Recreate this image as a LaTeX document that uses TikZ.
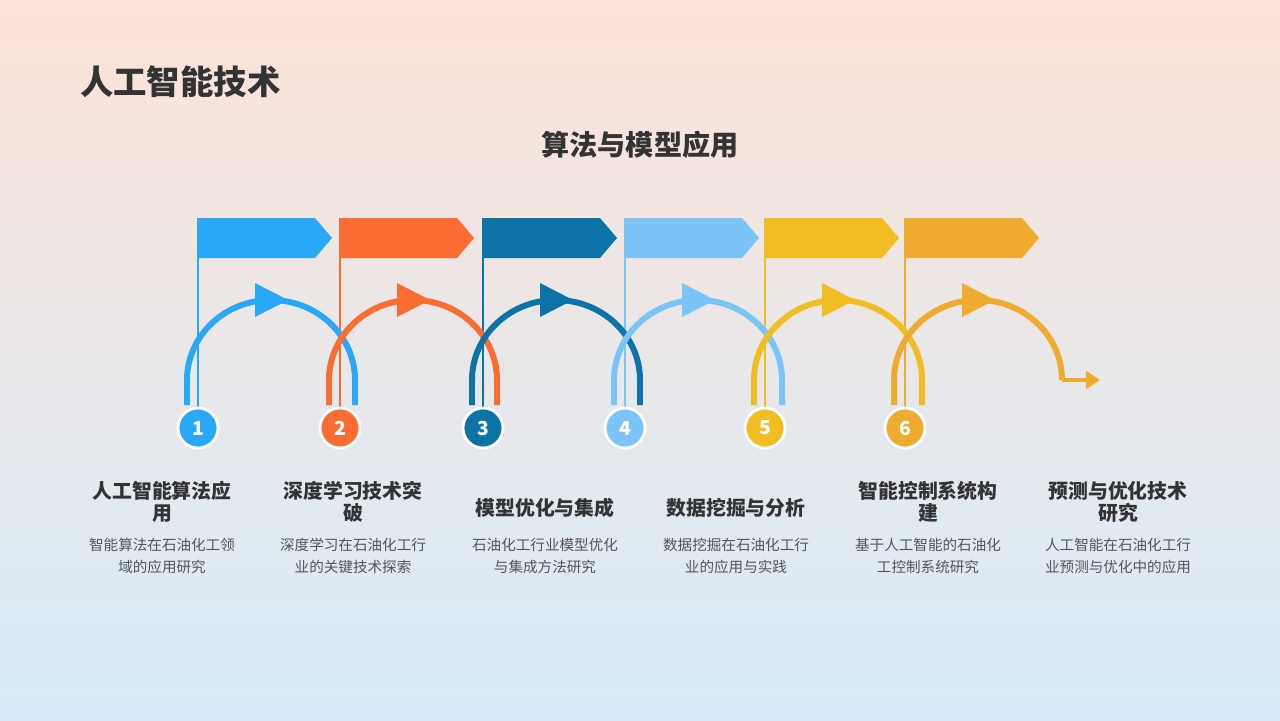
\documentclass[tikz,border=0pt]{standalone}
\usepackage{fontspec}
\setmainfont{Noto Sans CJK SC}
\usetikzlibrary{arrows.meta}
\definecolor{cA}{HTML}{2AA8F8}
\definecolor{cB}{HTML}{FA6C32}
\definecolor{cC}{HTML}{0D72A5}
\definecolor{cD}{HTML}{7CC4F8}
\definecolor{cE}{HTML}{F0BE22}
\definecolor{cF}{HTML}{EFAB30}
\definecolor{txt}{HTML}{333333}
\definecolor{sub}{HTML}{555555}
\begin{document}
\begin{tikzpicture}[x=0.02cm,y=-0.02cm]
    % Define styles
    \tikzset{
      num/.style={circle, draw=white, line width=1.6pt, minimum size=0.8cm, inner sep=0pt, text=white, font=\bfseries\fontsize{11}{11}\selectfont},
      head/.style={text width=3.4cm, align=center, text=txt, font=\bfseries\fontsize{11.3}{12.5}\selectfont},
      desc/.style={text width=3.4cm, align=center, text=sub, font=\fontsize{8.3}{13}\selectfont},
      ring/.style={line width=3.4pt}
    }
    \shade[top color={rgb,255:red,253;green,227;blue,216}, bottom color={rgb,255:red,214;green,236;blue,250}] (0,0) rectangle (1280,720);
    \useasboundingbox (0,0) rectangle (1280,720);

    % Titles
    \node[anchor=west, text=txt, font=\bfseries\fontsize{19}{20}\selectfont] (title) at (74,82) {人工智能技术};
    \node[text=txt, font=\bfseries\fontsize{16}{18}\selectfont] (subtitle) at (640,145) {算法与模型应用};

    % Flags, rings and markers
    \foreach \i/\x/\c in {1/198/cA, 2/340/cB, 3/483/cC, 4/625/cD, 5/765/cE, 6/905/cF} {
      \fill[\c] (\x,218) -- (\x+117,218) -- (\x+134,238) -- (\x+117,258) -- (\x,258) -- cycle;
      \draw[\c, line width=1.3pt] (\x,218) -- (\x,410);
      \coordinate (s\i) at (\x-11,405);
    }
    \foreach \i/\c in {1/cA, 2/cB, 3/cC, 4/cD, 5/cE} {
      \draw[\c, ring] (s\i) -- ++(0,-25) arc[start angle=180, end angle=360, x radius=84, y radius=80] -- ++(0,25);
    }
    \draw[cF, ring] (s6) -- ++(0,-25) arc[start angle=180, end angle=360, x radius=84, y radius=80] coordinate (e6);
    \coordinate (tip) at (1100,380);
    \draw[cF, line width=2.4pt, -{Triangle[length=8pt,width=10pt]}] (e6) -- (tip);
    \foreach \i/\x/\c in {1/198/cA, 2/340/cB, 3/483/cC, 4/625/cD, 5/765/cE, 6/905/cF} {
      \fill[\c] (\x+57,283) -- (\x+90,300) -- (\x+57,317) -- cycle;
      \node[num, fill=\c] (n\i) at (\x,428) {\i};
    }

    % Text columns
    \node[head, anchor=north] (h1) at (162,475) {人工智能算法应\\用};
    \node[head, anchor=north] (h2) at (353,475) {深度学习技术突\\破};
    \node[head] (h3) at (545,508) {模型优化与集成};
    \node[head] (h4) at (736,508) {数据挖掘与分析};
    \node[head, anchor=north] (h5) at (928,475) {智能控制系统构\\建};
    \node[head, anchor=north] (h6) at (1118,475) {预测与优化技术\\研究};
    \node[desc] (d1) at (162,556) {智能算法在石油化工领\\域的应用研究};
    \node[desc] (d2) at (353,556) {深度学习在石油化工行\\业的关键技术探索};
    \node[desc] (d3) at (545,556) {石油化工行业模型优化\\与集成方法研究};
    \node[desc] (d4) at (736,556) {数据挖掘在石油化工行\\业的应用与实践};
    \node[desc] (d5) at (928,556) {基于人工智能的石油化\\工控制系统研究};
    \node[desc] (d6) at (1118,556) {人工智能在石油化工行\\业预测与优化中的应用};
\end{tikzpicture}
\end{document}
